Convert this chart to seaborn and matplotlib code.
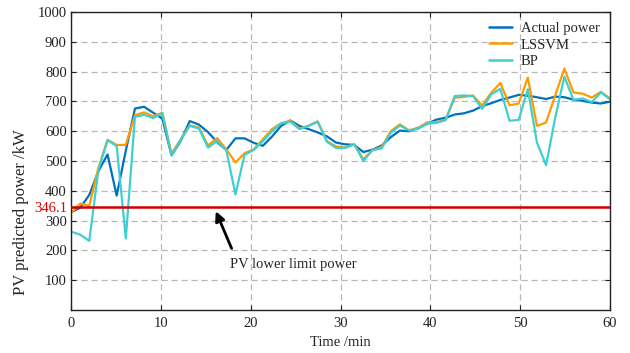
import numpy as np
import pandas as pd
import matplotlib
matplotlib.use("Agg")
import matplotlib.pyplot as plt
import seaborn as sns

# --- data (60 samples spread over 0..60 min) ---
actual = [328, 343, 386, 466, 522, 384, 535, 676, 682, 662,
          642, 519, 567, 634, 622, 597, 563, 537, 576, 576,
          561, 551, 582, 618, 636, 618, 607, 596, 583, 562,
          556, 554, 530, 538, 552, 580, 602, 600, 611, 625,
          639, 645, 656, 660, 669, 684, 694, 705, 713, 722,
          719, 714, 708, 716, 714, 706, 702, 696, 693, 699]
lssvm = [326, 357, 350, 477, 571, 554, 554, 654, 663, 650,
         662, 524, 573, 620, 612, 552, 577, 539, 495, 526,
         539, 573, 607, 627, 635, 609, 618, 633, 567, 549,
         545, 556, 506, 536, 547, 600, 623, 603, 611, 630,
         630, 639, 712, 715, 720, 686, 729, 762, 687, 693,
         780, 618, 629, 720, 810, 730, 726, 713, 732, 710]
bp = [263, 253, 232, 470, 570, 550, 240, 648, 655, 644,
      660, 519, 570, 618, 609, 545, 567, 536, 388, 521,
      537, 566, 600, 626, 632, 607, 618, 632, 565, 544,
      544, 556, 500, 537, 542, 595, 619, 603, 608, 626,
      628, 637, 718, 720, 718, 675, 724, 742, 635, 638,
      741, 562, 486, 645, 783, 705, 710, 698, 730, 707]
time_min = np.linspace(0, 60, len(actual))

LOWER_LIMIT = 346.1
SERIES = ["Actual power", "LSSVM", "BP"]
COLORS = {"Actual power": "#0072BD", "LSSVM": "#FF9A00", "BP": "#3ECFD3"}

df = pd.DataFrame({
    "time": np.tile(time_min, 3),
    "power": actual + lssvm + bp,
    "model": np.repeat(SERIES, len(actual)),
})

sns.set_style("ticks")
plt.rcParams['font.family'] = ['Liberation Serif', 'DejaVu Serif']
plt.rcParams['font.size'] = 10.5

fig = plt.figure(figsize=(6.3, 3.53), dpi=100)
ax = fig.add_axes([0.1127, 0.1218, 0.8556, 0.8442])

sns.lineplot(data=df, x="time", y="power", hue="model", hue_order=SERIES,
             palette=COLORS, sort=False, lw=1.6, ax=ax)

# lower limit line
ax.axhline(LOWER_LIMIT, color="#D00000", lw=1.8, zorder=5)

ax.set_xlim(0, 60)
ax.set_ylim(0, 1000)
ax.set_xticks(range(0, 61, 10))
yt = [100, 200, 300, LOWER_LIMIT, 400, 500, 600, 700, 800, 900, 1000]
ax.set_yticks(yt)
ax.set_yticklabels([f"{v:g}" for v in yt])

ax.grid(True, color="#b8b8b8", lw=0.9, dashes=(5, 3))
ax.tick_params(direction="in", top=True, right=True, length=3.5,
               labelsize=10.5, colors="#222222")
ax.tick_params(axis="x", pad=5)
ax.tick_params(axis="y", pad=3)
for lab in ax.get_yticklabels():
    if lab.get_text() == "346.1":
        lab.set_color("#E00000")
for s in ax.spines.values():
    s.set_color("#222222")
    s.set_linewidth(1.0)

ax.set_xlabel("Time /min", fontsize=10.5, labelpad=4)
ax.set_ylabel("PV predicted power /kW", fontsize=12)
# the label sits lower than the axes centre in the reference
ax.yaxis.set_label_coords(-0.078, 0.33)

# annotation arrow + text
ax.annotate("", xy=(16.0, 340), xytext=(18.0, 198),
            arrowprops=dict(arrowstyle="-|>", color="black", lw=2,
                            mutation_scale=14))
ax.text(24.7, 154, "PV lower limit power", ha="center", va="center", fontsize=10.5)

leg = ax.legend(loc="upper right", frameon=False, fontsize=10.5,
                handlelength=1.6, labelspacing=0.2, borderaxespad=0.3,
                handletextpad=0.6)
for h in leg.get_lines():
    h.set_linewidth(1.8)

fig.savefig("out.png", dpi=100)
